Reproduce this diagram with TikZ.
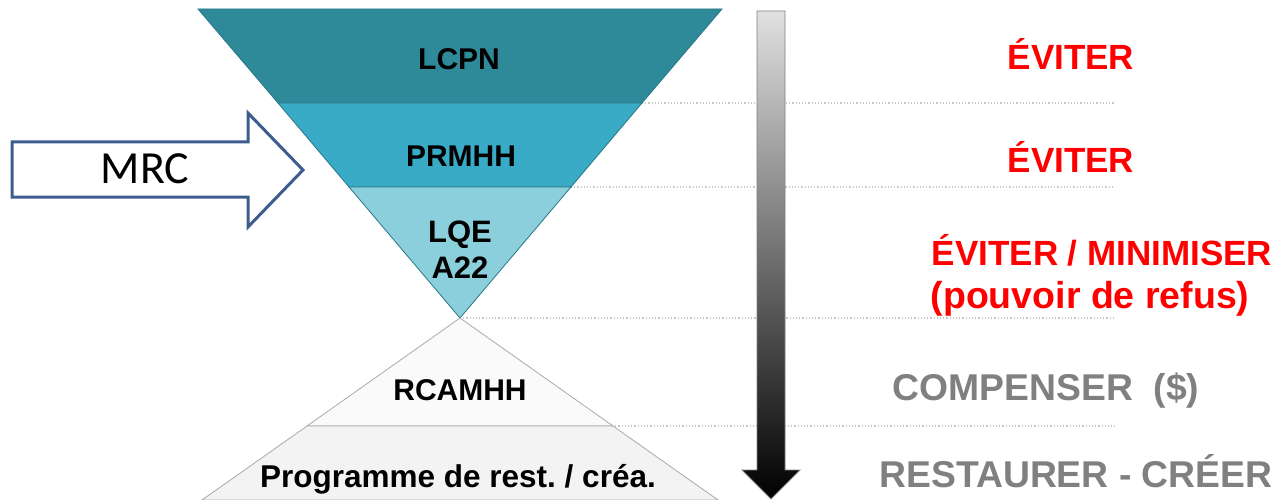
\documentclass[tikz,border=0pt]{standalone}
\usepackage{fontspec}
\setmainfont{Liberation Sans}
\newfontfamily\calib{Carlito}
\frenchspacing
\definecolor{bandA}{RGB}{46,137,152}
\definecolor{bandB}{RGB}{58,171,198}
\definecolor{bandC}{RGB}{138,207,219}
\definecolor{bandEdge}{RGB}{40,120,135}
\definecolor{lowA}{RGB}{250,250,250}
\definecolor{lowB}{RGB}{243,243,243}
\definecolor{lowEdge}{RGB}{170,170,170}
\definecolor{dotgray}{RGB}{200,200,200}
\definecolor{mrcblue}{RGB}{61,93,143}
\definecolor{txtgray}{RGB}{128,128,128}
\definecolor{txtred}{RGB}{255,0,0}
\tikzset{
  band/.style={draw=bandEdge, line width=0.8pt},
  lowband/.style={draw=lowEdge, line width=0.8pt},
  sep/.style={draw=dotgray, dotted, line width=1.2pt},
  lbl/.style={font=\bfseries\fontsize{30}{36}\selectfont, text=black, inner sep=0pt, anchor=base, align=center},
  redtxt/.style={font=\bfseries\fontsize{35}{42}\selectfont, text=txtred, inner sep=0pt, anchor=base, align=center},
  graytxt/.style={font=\bfseries\fontsize{37.3}{44}\selectfont, text=txtgray, inner sep=0pt, anchor=base},
}
\begin{document}
\begin{tikzpicture}[x=1pt,y=-1pt]
\useasboundingbox (0,0) rectangle (1283,500);
% dotted separators
\coordinate (s1a) at (642,103); \coordinate (s1b) at (1115,103);
\coordinate (s2a) at (571,187); \coordinate (s2b) at (1115,187);
\coordinate (s3a) at (460,318); \coordinate (s3b) at (1115,318);
\coordinate (s4a) at (612,426); \coordinate (s4b) at (1115,426);
\draw[sep] (s1a) -- (s1b);
\draw[sep] (s2a) -- (s2b);
\draw[sep] (s3a) -- (s3b);
\draw[sep] (s4a) -- (s4b);
% inverted triangle
\filldraw[band, fill=bandA] (198,9) -- (722,9) -- (642,103) -- (278,103) -- cycle;
\filldraw[band, fill=bandB] (278,103) -- (642,103) -- (571,187) -- (349,187) -- cycle;
\filldraw[band, fill=bandC] (349,187) -- (571,187) -- (460,318) -- cycle;
% upright triangle
\filldraw[lowband, fill=lowA] (460,318) -- (613,426) -- (307,426) -- cycle;
\filldraw[lowband, fill=lowB] (307,426) -- (613,426) -- (718,500) -- (202,500) -- cycle;
% labels
\node[lbl] (lcpn) at (459,70) {LCPN};
\node[lbl] (prmhh) at (461,167) {PRMHH};
\node[lbl, font=\bfseries\fontsize{31}{36}\selectfont] (lqe) at (460,278) {LQE\\A22};
\node[lbl] (rcamhh) at (460,400) {RCAMHH};
\node[lbl, font=\bfseries\fontsize{31.5}{36}\selectfont] (prog) at (458,487) {Programme de rest. / créa.};
% gradient arrow
\shade[top color=black!12, bottom color=black, draw=black!50, line width=0.8pt]
  (757,11) -- (785,11) -- (785,470) -- (800,470) -- (771,499) -- (742,470) -- (757,470) -- cycle;
% MRC arrow
\draw[draw=mrcblue, fill=white, line width=3pt, line join=miter]
  (12,142) -- (248,142) -- (248,113) -- (303,170) -- (248,227) -- (248,197) -- (12,197) -- cycle;
\node[font=\calib\fontsize{46}{50}\selectfont, inner sep=0pt, anchor=base] (mrc) at (145,184) {MRC};
% right texts
\node[redtxt] (ev1) at (1071,70) {ÉVITER};
\node[redtxt] (ev2) at (1071,173) {ÉVITER};
\node[redtxt] (ev3) at (1102,265) {ÉVITER / MINIMISER};
\node[redtxt, font=\bfseries\fontsize{37.5}{42}\selectfont] (ev4) at (1090,308) {(pouvoir de refus)};
\node[graytxt] (comp) at (1046,400) {COMPENSER~~(\$)};
\node[graytxt] (rest) at (1076,487) {RESTAURER - CRÉER};
\end{tikzpicture}
\end{document}
